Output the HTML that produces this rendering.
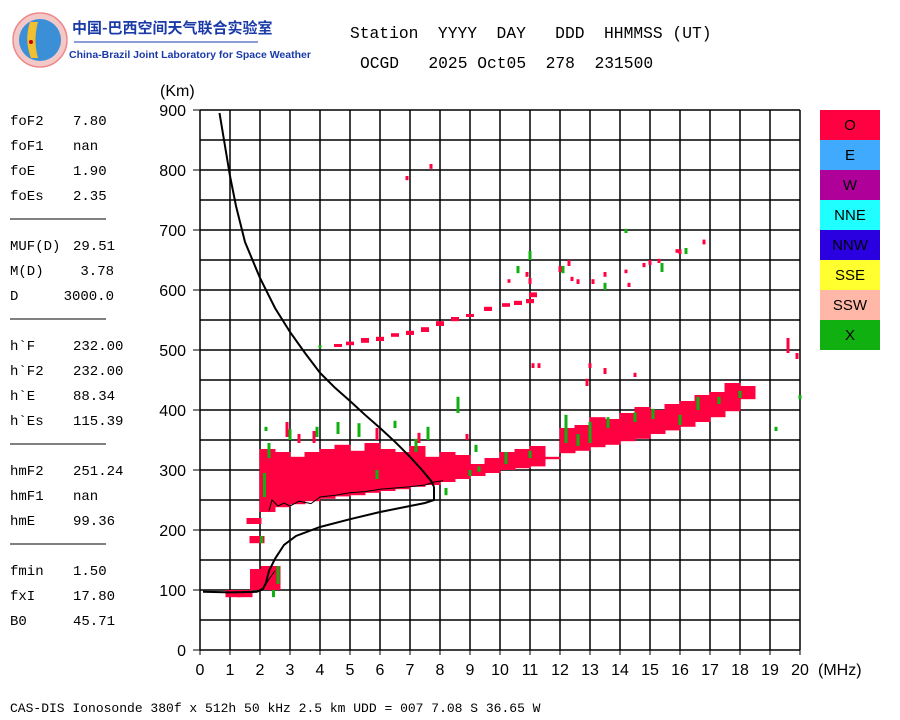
<!DOCTYPE html>
<html><head><meta charset="utf-8"><style>
body{margin:0;background:#fff;width:900px;height:720px;overflow:hidden}
svg{display:block}
.m{font-family:"Liberation Mono",monospace;font-size:14px;fill:#000}
.s{font-family:"Liberation Sans",sans-serif;font-size:16px;fill:#000}
</style></head><body>
<svg id="c" width="900" height="720" xmlns="http://www.w3.org/2000/svg">
<g>
<circle cx="40" cy="40" r="27" fill="#f3c8c8" stroke="#e88" stroke-width="1.5"/>
<circle cx="40" cy="40" r="21" fill="#3b8fd6"/>
<path d="M30 22 Q24 40 31 58 L38 58 Q33 40 38 22 Z" fill="#f0c030"/>
<circle cx="31" cy="42" r="2" fill="#c00"/>
<text x="72" y="33" style="font-family:'Noto Sans CJK SC',sans-serif;font-size:15px;fill:#1a3aa8;font-weight:bold">中国-巴西空间天气联合实验室</text>
<line x1="74" y1="42" x2="258" y2="42" stroke="#1a3aa8" stroke-width="1"/>
<text x="69" y="58" style="font-family:'Liberation Sans',sans-serif;font-size:10.5px;fill:#1a3aa8;font-weight:bold">China-Brazil Joint Laboratory for Space Weather</text>
</g>
<text x="350" y="38" class="m" style="font-size:16.3px" xml:space="preserve">Station  YYYY  DAY   DDD  HHMMSS (UT)</text>
<text x="360" y="68" class="m" style="font-size:16.3px" xml:space="preserve">OCGD   2025 Oct05  278  231500</text>
<g id="params"></g>
<g id="grid"></g>
<g id="data"></g>
<g id="curves"></g>
<g id="axes"></g>
<g id="legend"></g>
<text x="10" y="712" class="m" style="font-size:13px">CAS-DIS Ionosonde 380f x 512h 50 kHz 2.5 km UDD = 007 7.08 S 36.65 W</text>
</svg>
<script>
const xTicks=[0,1,2,3,4,5,6,7,8,9,10,11,12,13,14,15,16,17,18,19,20];
const yTicks=[0,100,200,300,400,500,600,700,800,900];
const paramNames=["foF2","foF1","foE","foEs","","MUF(D)","M(D)","D","","h`F","h`F2","h`E","h`Es","","hmF2","hmF1","hmE","","fmin","fxI","B0"];
const paramValues=["7.80","nan","1.90","2.35","","29.51","3.78","3000.0","","232.00","232.00","88.34","115.39","","251.24","nan","99.36","","1.50","17.80","45.71"];
const legendLabels=["O","E","W","NNE","NNW","SSE","SSW","X"];
const legendColors=["#ff0040","#40aaff","#b0009a","#20ffff","#2a00e0","#ffff30","#ffb8a8","#10b010"];
// F-layer O echo band (freq MHz, low km, high km)
const fFreq=[2.25,2.75,3.25,3.75,4.25,4.75,5.25,5.75,6.25,6.75,7.25,7.75,8.25,8.75,9.25,9.75,10.25,10.75,11.25,11.75,12.25,12.75,13.25,13.75,14.25,14.75,15.25,15.75,16.25,16.75,17.25,17.75,18.25];
const fLow=[230,238,243,248,252,256,258,262,265,268,272,275,280,285,290,295,300,303,306,318,328,332,338,342,348,352,360,366,372,380,388,398,418];
const fHigh=[335,330,322,330,335,342,332,345,335,330,340,322,330,325,310,320,330,335,340,322,370,375,388,385,395,405,400,410,415,425,430,445,440];
// scattered O echoes: freq, low, high
const oF=[1.1,1.5,2.0,2.35,1.9,1.8,2.9,3.3,6.9,7.7,11.1,11.3,13.0,13.5,14.5,12.9,19.6,19.9,3.8,5.9,7.3,8.9,9.2,4.6,5.0,5.5,6.0,6.5,7.0,7.5,8.0,8.5,9.0,9.6,10.2,10.6,11.0,11.1,10.9,10.3,10.6,11.0,12.0,12.4,12.6,13.1,13.5,14.2,14.8,15.0,15.3,16.0,16.8,12.3,15.9,14.3];
const oL=[88,88,100,100,178,210,355,345,783,802,470,470,470,460,455,440,495,485,345,350,345,350,300,505,508,512,515,522,525,530,540,548,555,565,572,575,578,588,622,612,632,610,630,615,610,610,622,628,638,642,645,660,676,640,662,605];
const oH=[100,100,135,140,190,220,380,360,790,810,478,478,478,470,462,452,520,495,365,370,362,360,308,510,514,520,522,528,532,538,548,555,560,572,578,582,585,596,630,618,640,620,640,622,618,618,630,634,645,650,652,668,684,650,668,612];
// green (X) echoes: freq, low, high
const xF=[2.15,2.3,2.6,2.45,2.05,2.2,3.0,3.9,4.6,5.3,5.9,6.5,7.2,7.6,8.6,9.0,9.2,10.2,11.0,12.2,12.6,13.0,13.6,14.5,15.1,16.0,16.6,17.3,18.0,19.2,20.0,4.0,10.6,11.0,12.1,13.5,14.2,15.4,16.2,9.3,8.2];
const xL=[255,320,110,88,178,365,350,355,360,355,285,370,330,350,395,290,330,310,320,345,340,345,370,380,385,375,400,410,420,365,418,503,628,650,628,600,695,630,660,297,258];
const xH=[295,345,140,100,190,372,368,372,380,378,300,382,352,372,422,300,342,330,332,392,360,380,388,396,402,392,422,422,432,372,425,508,640,665,640,612,702,645,670,306,270];
// virtual height trace (h'f)
const tF=[2.3,2.4,2.6,2.8,3.0,3.3,3.7,4.0,4.5,5.0,5.5,6.0,6.5,7.0,7.5,7.8,8.1];
const tH=[232,250,240,245,240,248,244,255,258,262,264,268,270,272,275,280,282];
// E trace
const eF=[0.1,1.0,1.9,2.1,2.2,2.3,2.4,2.5];
const eH=[97,96,97,100,110,118,125,132];
// profile upper branch
const pF=[0.65,0.8,1.0,1.2,1.5,2.0,2.5,3.0,3.5,4.0,4.5,5.0,5.5,6.0,6.5,7.0,7.4,7.7,7.8];
const pH=[895,850,790,740,680,620,570,530,495,462,437,415,392,370,347,322,300,282,272];
// lower branch
const qF=[0.1,1.0,1.9,2.1,2.2,2.3,2.5,2.8,3.2,4.0,5.0,6.0,7.0,7.5,7.8,7.8];
const qH=[97,96,97,102,112,132,152,175,190,205,218,230,240,245,250,272];

const NS="http://www.w3.org/2000/svg";
const X=f=>200+30*f, Y=h=>650-0.6*h;
function mk(tag,attrs,parent){const e=document.createElementNS(NS,tag);for(const k in attrs)e.setAttribute(k,attrs[k]);document.getElementById(parent).appendChild(e);return e;}
for(let f=1;f<=20;f++){const l=mk('line',{x1:X(f),y1:Y(900),x2:X(f),y2:Y(0),stroke:'#000','stroke-width':1.5},'grid');

}
for(let h=50;h<=900;h+=50){const l=mk('line',{x1:X(0),y1:Y(h),x2:X(20),y2:Y(h),stroke:'#000','stroke-width':1.5},'grid');

}
const ax=mk('line',{x1:X(0),y1:Y(0),x2:X(20),y2:Y(0),stroke:'#000','stroke-width':1.5},'axes');


const ay=mk('line',{x1:X(0),y1:Y(0),x2:X(0),y2:Y(900),stroke:'#000','stroke-width':1.5},'axes');


xTicks.forEach(f=>{const t=mk('text',{x:X(f),y:675,'text-anchor':'middle',class:'s'},'axes');t.textContent=f;


mk('line',{x1:X(f),y1:650,x2:X(f),y2:655,stroke:'#000'},'axes');});
yTicks.forEach(h=>{const t=mk('text',{x:186,y:Y(h)+6,'text-anchor':'end',class:'s'},'axes');t.textContent=h;


mk('line',{x1:193,y1:Y(h),x2:200,y2:Y(h),stroke:'#000'},'axes');});
const xu=mk('text',{x:818,y:675,class:'s'},'axes');xu.textContent='(MHz)';


const yu=mk('text',{x:160,y:96,class:'s'},'axes');yu.textContent='(Km)';


function bar(f,lo,hi,w,col,name){const r=mk('rect',{x:X(f)-w/2,y:Y(hi),width:w,height:Math.max(2,(hi-lo)*0.6),fill:col},'data');

}
fFreq.forEach((f,i)=>bar(f,fLow[i],fHigh[i],16,'#ff0040','o-echo-band'));
oF.forEach((f,i)=>{let w=3;if(f<2)w=15;else if(f<2.5&&oL[i]<150)w=20;else if(f>4.4&&f<12&&oL[i]>480&&oL[i]<600)w=8;bar(f,oL[i],oH[i],w,'#ff0040','o-echo');});
xF.forEach((f,i)=>bar(f,xL[i],xH[i],3,'#10b010','x-echo'));
function poly(F,H,w,name){const p=mk('polyline',{points:F.map((f,i)=>X(f)+','+Y(H[i])).join(' '),fill:'none',stroke:'#000','stroke-width':w},'curves');

}
poly(tF,tH,1,'virtual-height-trace');
poly(eF,eH,1,'e-trace');
poly(pF,pH,2,'profile-upper');
poly(qF,qH,2,'profile-lower');
legendLabels.forEach((l,i)=>{const r=mk('rect',{x:820,y:110+30*i,width:60,height:30,fill:legendColors[i]},'legend');


const t=mk('text',{x:850,y:130+30*i,'text-anchor':'middle',class:'s',style:'font-size:15px'},'legend');t.textContent=l;

});
paramNames.forEach((n,i)=>{const y=125+25*i;
if(n===''){const l=mk('line',{x1:10,y1:y-6,x2:106,y2:y-6,stroke:'#000'},'params');

return;}
const a=mk('text',{x:10,y:y,class:'m'},'params');a.textContent=n;


const b=mk('text',{x:n==='D'||n==='M(D)'?114:73,y:y,class:'m','text-anchor':n==='D'||n==='M(D)'?'end':'start'},'params');b.textContent=paramValues[i];

});
</script>
</body></html>
